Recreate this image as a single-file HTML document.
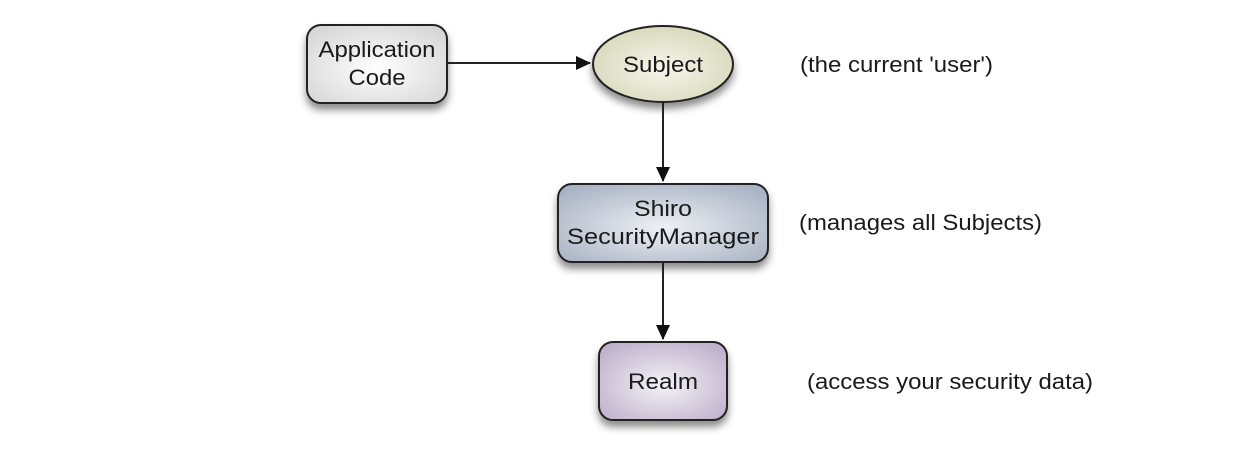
<!DOCTYPE html>
<html><head><meta charset="utf-8"><style>
body{margin:0;background:#fff;width:1236px;height:452px;overflow:hidden}
text{font-family:"Liberation Sans",Arial,sans-serif;font-size:22px;fill:#1a1a1a}
</style></head><body>
<svg width="1236" height="452" viewBox="0 0 1236 452">
<defs>
<radialGradient id="g1" cx="50%" cy="55%" r="65%"><stop offset="0" stop-color="#ffffff"/><stop offset="1" stop-color="#d6d6d6"/></radialGradient>
<radialGradient id="g2" cx="50%" cy="55%" r="65%"><stop offset="0" stop-color="#f6f6ec"/><stop offset="1" stop-color="#d3d4b4"/></radialGradient>
<radialGradient id="g3" cx="50%" cy="55%" r="65%"><stop offset="0" stop-color="#eef0f4"/><stop offset="1" stop-color="#a9b3c4"/></radialGradient>
<radialGradient id="g4" cx="50%" cy="55%" r="65%"><stop offset="0" stop-color="#f4f2f6"/><stop offset="1" stop-color="#bdb0cc"/></radialGradient>
<filter id="sh" x="-20%" y="-20%" width="140%" height="160%"><feDropShadow dx="0" dy="6" stdDeviation="4" flood-color="#000" flood-opacity="0.45"/></filter>
<marker id="ar" markerWidth="16" markerHeight="16" refX="14" refY="7" orient="auto" markerUnits="userSpaceOnUse"><path d="M0,0 L15,7 L0,14 Z" fill="#111"/></marker>
</defs>
<g stroke="#222" stroke-width="2">
<rect x="307" y="25" width="140" height="78" rx="14" fill="url(#g1)" filter="url(#sh)"/>
<ellipse cx="663" cy="64" rx="70" ry="38" fill="url(#g2)" filter="url(#sh)"/>
<rect x="558" y="184" width="210" height="78" rx="14" fill="url(#g3)" filter="url(#sh)"/>
<rect x="599" y="342" width="128" height="78" rx="14" fill="url(#g4)" filter="url(#sh)"/>
<line x1="447" y1="63" x2="590" y2="63" marker-end="url(#ar)"/>
<line x1="663" y1="103" x2="663" y2="181" marker-end="url(#ar)"/>
<line x1="663" y1="263" x2="663" y2="339" marker-end="url(#ar)"/>
</g>
<g text-anchor="middle">
<text x="377" y="57" textLength="117" lengthAdjust="spacingAndGlyphs">Application</text>
<text x="377" y="85" textLength="57" lengthAdjust="spacingAndGlyphs">Code</text>
<text x="663" y="72" textLength="80" lengthAdjust="spacingAndGlyphs">Subject</text>
<text x="663" y="216" textLength="58" lengthAdjust="spacingAndGlyphs">Shiro</text>
<text x="663" y="244" textLength="192" lengthAdjust="spacingAndGlyphs">SecurityManager</text>
<text x="663" y="389" textLength="70" lengthAdjust="spacingAndGlyphs">Realm</text>
</g>
<text x="800" y="72" textLength="193" lengthAdjust="spacingAndGlyphs">(the current 'user')</text>
<text x="799" y="230" textLength="243" lengthAdjust="spacingAndGlyphs">(manages all Subjects)</text>
<text x="807" y="389" textLength="286" lengthAdjust="spacingAndGlyphs">(access your security data)</text>
</svg>
</body></html>
